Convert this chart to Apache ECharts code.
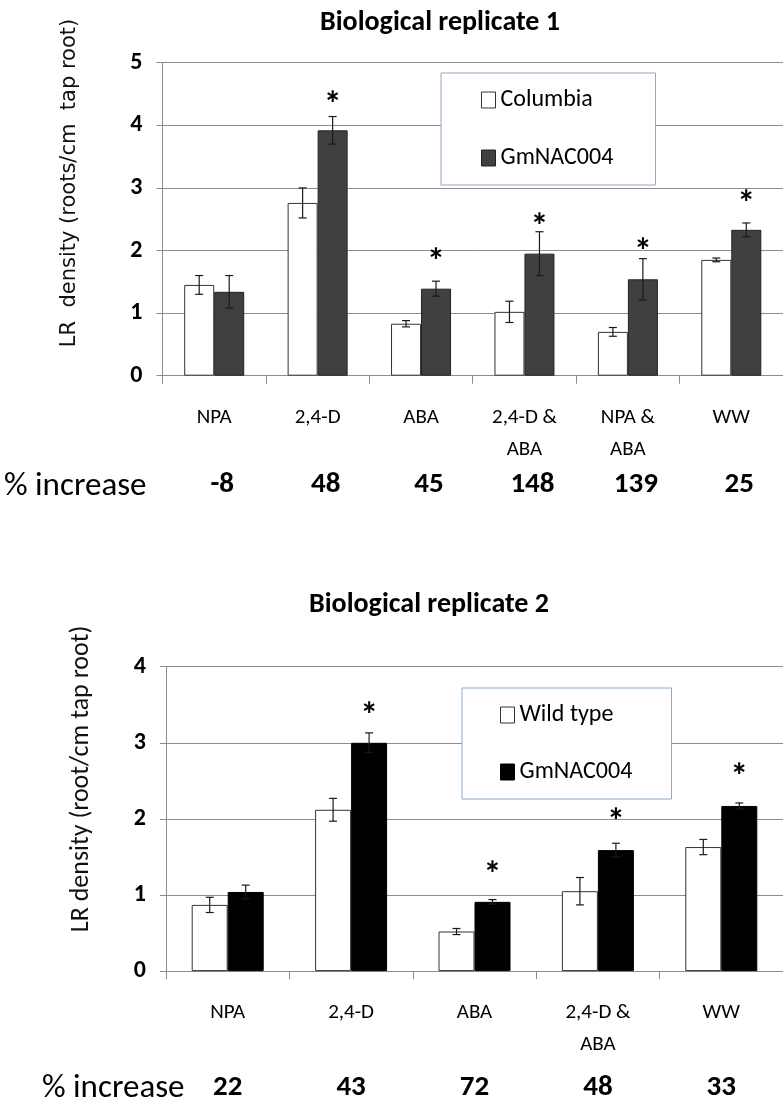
<!DOCTYPE html>
<html><head><meta charset="utf-8">
<script src="https://cdn.jsdelivr.net/npm/echarts@6/dist/echarts.min.js"></script>
<style>html,body{margin:0;padding:0;background:#fff}#c{width:783px;height:1114px}</style>
</head><body><div id="c"></div>
<script>
// ---- data: replicate 1 ----
const cats1 = ['NPA', '2,4-D', 'ABA', '2,4-D &\nABA', 'NPA &\nABA', 'WW'];
const col1 = [1.45, 2.76, 0.83, 1.02, 0.70, 1.85];
const col1Err = [0.15, 0.24, 0.05, 0.17, 0.07, 0.03];
const gm1 = [1.34, 3.92, 1.39, 1.95, 1.54, 2.33];
const gm1Err = [0.26, 0.22, 0.12, 0.35, 0.33, 0.11];
const star1 = [null, 4.47, 1.96, 2.52, 2.12, 2.89];
const pct1 = ['-8', '48', '45', '148', '139', '25'];
const yTicks1 = [0, 1, 2, 3, 4, 5];
// ---- data: replicate 2 ----
const cats2 = ['NPA', '2,4-D', 'ABA', '2,4-D &\nABA', 'WW'];
const wt2 = [0.87, 2.12, 0.52, 1.05, 1.63];
const wt2Err = [0.10, 0.15, 0.04, 0.18, 0.10];
const gm2 = [1.04, 3.00, 0.91, 1.59, 2.17];
const gm2Err = [0.09, 0.13, 0.03, 0.09, 0.04];
const star2 = [null, 3.47, 1.38, 2.07, 2.66];
const pct2 = ['22', '43', '72', '48', '33'];
const yTicks2 = [0, 1, 2, 3, 4];

const FONT = "Carlito, Lato, sans-serif";
const GRID = '#8c8c8c';
const BW1 = 30, BW2 = 36;
const STAR = 36;

function errData(v, e) { return v.map((x, i) => [i, x, e[i]]); }
function starData(s) { return s.map((x, i) => [i, x]).filter(d => d[1] != null); }

function errRender(side, bw) {
  return function (params, api) {
    const i = api.value(0), v = api.value(1), e = api.value(2);
    const t = api.coord([i, v + e]), b = api.coord([i, v - e]);
    const x = t[0] + side * bw / 2, cw = 4;
    const st = { stroke: '#1a1a1a', lineWidth: 1.2 };
    return { type: 'group', children: [
      { type: 'line', shape: { x1: x, y1: t[1], x2: x, y2: b[1] }, style: st },
      { type: 'line', shape: { x1: x - cw, y1: t[1], x2: x + cw, y2: t[1] }, style: st },
      { type: 'line', shape: { x1: x - cw, y1: b[1], x2: x + cw, y2: b[1] }, style: st }
    ]};
  };
}
function starRender(bw) {
  return function (params, api) {
    const p = api.coord([api.value(0), api.value(1)]);
    return { type: 'text', x: p[0] + bw / 2, y: p[1] + STAR * 0.3,
      style: { text: '*', font: 'bold ' + STAR + 'px ' + FONT, fill: '#000', align: 'center', verticalAlign: 'middle' } };
  };
}

function xCat(gi, data) {
  return { type: 'category', gridIndex: gi, data: data,
    axisLine: { lineStyle: { color: GRID, width: 1 } },
    axisTick: { show: true, length: 8, interval: 0, lineStyle: { color: GRID } },
    axisLabel: { interval: 0, margin: 26, fontFamily: FONT, fontSize: 21, color: '#000', lineHeight: 32 } };
}
function xPct(gi, data, off, shift) {
  return { type: 'category', gridIndex: gi, data: data, position: 'bottom', offset: off,
    axisLine: { show: false }, axisTick: { show: false }, splitLine: { show: false },
    axisLabel: { interval: 0, margin: 0, fontFamily: FONT, fontSize: 29, fontWeight: 'bold', color: '#000',
      padding: [0, 0, 0, shift] } };
}
function yVal(gi, ticks) {
  return { type: 'value', gridIndex: gi, min: ticks[0], max: ticks[ticks.length - 1], interval: 1,
    axisLine: { show: true, lineStyle: { color: GRID } },
    axisTick: { show: true, length: 6, lineStyle: { color: GRID } },
    splitLine: { lineStyle: { color: GRID, width: 1 } },
    axisLabel: { margin: 20, fontFamily: FONT, fontSize: 24, fontWeight: 'bold', color: '#000' } };
}
function legendBox(left, top, names, styles, padL, padR, gap) {
  return { orient: 'vertical', left: left, top: top, itemWidth: 14, itemHeight: 16, itemGap: gap,
    padding: [15, padR, 15, padL], backgroundColor: '#fff', borderColor: '#8eaac6', borderWidth: 1,
    selectedMode: false, z: 10, itemTextGap: 5,
    textStyle: { fontFamily: FONT, fontSize: 24, color: '#000', lineHeight: 20, width: 114 },
    data: names.map((n, i) => ({ name: n, icon: 'rect', itemStyle: styles[i] })) };
}

const whiteStyle = { color: '#fff', borderColor: '#333', borderWidth: 1 };
const dark1Style = { color: '#404040', borderColor: '#222', borderWidth: 1 };
const dark2Style = { color: '#000', borderColor: '#000', borderWidth: 1 };

const chart = echarts.init(document.getElementById('c'), null, { renderer: 'canvas' });
chart.setOption({
  animation: false,
  backgroundColor: '#fff',
  title: [
    { text: 'Biological replicate 1', left: 435, top: 4, textAlign: 'center',
      textStyle: { fontFamily: FONT, fontSize: 28, fontWeight: 'bold', color: '#000' } },
    { text: 'Biological replicate 2', left: 424, top: 586, textAlign: 'center',
      textStyle: { fontFamily: FONT, fontSize: 28, fontWeight: 'bold', color: '#000' } }
  ],
  grid: [
    { left: 162.5, top: 62.7, width: 630, height: 313, containLabel: false },
    { left: 166, top: 666.7, width: 620, height: 304.4, containLabel: false }
  ],
  xAxis: [xCat(0, cats1), xCat(1, cats2), xPct(0, pct1, 95, 16), xPct(1, pct2, 102, 0)],
  yAxis: [yVal(0, yTicks1), yVal(1, yTicks2)],
  legend: [
    legendBox(441, 73, ['Columbia', 'GmNAC004'], [whiteStyle, dark1Style], 40, 41, 34),
    legendBox(462, 688, ['Wild type', 'GmNAC004'], [whiteStyle, dark2Style], 38, 38, 33)
  ],
  series: [
    { name: 'Columbia', type: 'bar', xAxisIndex: 0, yAxisIndex: 0, data: col1, barWidth: BW1, barGap: '0%', itemStyle: whiteStyle },
    { name: 'GmNAC004', type: 'bar', xAxisIndex: 0, yAxisIndex: 0, data: gm1, barWidth: BW1, barGap: '0%', itemStyle: dark1Style },
    { type: 'custom', xAxisIndex: 0, yAxisIndex: 0, data: errData(col1, col1Err), renderItem: errRender(-1, BW1), z: 5 },
    { type: 'custom', xAxisIndex: 0, yAxisIndex: 0, data: errData(gm1, gm1Err), renderItem: errRender(1, BW1), z: 5 },
    { type: 'custom', xAxisIndex: 0, yAxisIndex: 0, data: starData(star1), renderItem: starRender(BW1), z: 5 },
    { name: 'Wild type', type: 'bar', xAxisIndex: 1, yAxisIndex: 1, data: wt2, barWidth: BW2, barGap: '0%', itemStyle: whiteStyle },
    { name: 'GmNAC004', type: 'bar', xAxisIndex: 1, yAxisIndex: 1, data: gm2, barWidth: BW2, barGap: '0%', itemStyle: dark2Style },
    { type: 'custom', xAxisIndex: 1, yAxisIndex: 1, data: errData(wt2, wt2Err), renderItem: errRender(-1, BW2), z: 5 },
    { type: 'custom', xAxisIndex: 1, yAxisIndex: 1, data: errData(gm2, gm2Err), renderItem: errRender(1, BW2), z: 5 },
    { type: 'custom', xAxisIndex: 1, yAxisIndex: 1, data: starData(star2), renderItem: starRender(BW2), z: 5 }
  ],
  graphic: [
    { type: 'text', x: 70, y: 183, rotation: Math.PI / 2,
      style: { text: 'LR  density (roots/cm  tap root)', font: '21px "DejaVu Sans"', fill: '#111', align: 'center', verticalAlign: 'middle' } },
    { type: 'text', x: 81, y: 779, rotation: Math.PI / 2,
      style: { text: 'LR density (root/cm tap root)', font: '26px ' + FONT, fill: '#111', align: 'center', verticalAlign: 'middle' } },
    { type: 'text', x: 4, y: 487,
      style: { text: '% increase', font: '33px ' + FONT, fill: '#000', align: 'left', verticalAlign: 'middle' } },
    { type: 'text', x: 42, y: 1089,
      style: { text: '% increase', font: '33px ' + FONT, fill: '#000', align: 'left', verticalAlign: 'middle' } }
  ]
});
</script></body></html>
